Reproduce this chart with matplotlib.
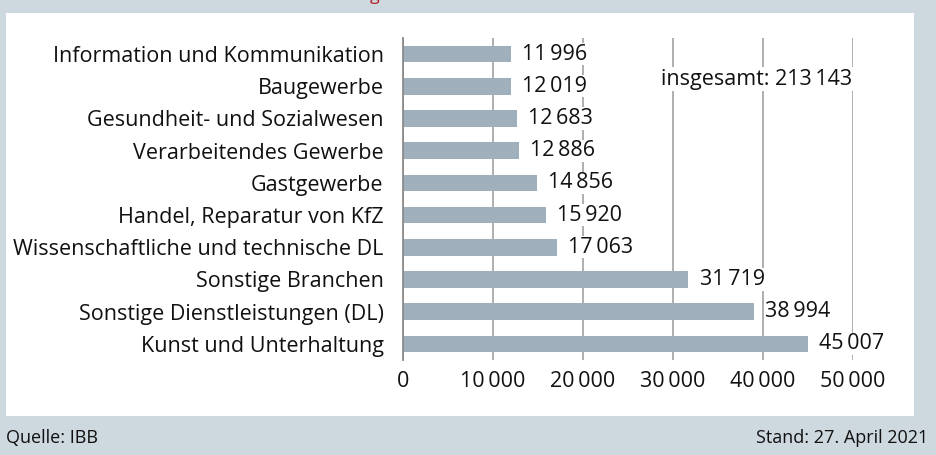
import matplotlib.pyplot as plt
from matplotlib.ticker import FuncFormatter

plt.rcParams['font.family'] = ['Open Sans', 'DejaVu Sans']

branchen = [
    "Information und Kommunikation",
    "Baugewerbe",
    "Gesundheit- und Sozialwesen",
    "Verarbeitendes Gewerbe",
    "Gastgewerbe",
    "Handel, Reparatur von KfZ",
    "Wissenschaftliche und technische DL",
    "Sonstige Branchen",
    "Sonstige Dienstleistungen (DL)",
    "Kunst und Unterhaltung",
]
werte = [11996, 12019, 12683, 12886, 14856, 15920, 17063, 31719, 38994, 45007]
gesamt = 213143
x_ticks = [0, 10000, 20000, 30000, 40000, 50000]

bg = '#cdd8df'
bar_col = '#9fb0bc'
grid_col = '#a8a8a8'
txt = '#111111'
fs = 15.5


def fmt(v):
    return f"{int(v):,}".replace(",", "\u2009")


fig = plt.figure(figsize=(9.36, 4.55), dpi=100, facecolor=bg)
# weisses Feld hinter dem Diagramm
fig.patches.append(plt.Rectangle((6 / 936, 1 - 416 / 455), 908 / 936, 403 / 455,
                                 transform=fig.transFigure, facecolor='white',
                                 edgecolor='none', zorder=-10))

ax = fig.add_axes([403 / 936, 1 - 360 / 455, 450 / 936, 322 / 455])
ax.set_facecolor('none')

y = list(range(len(branchen)))
ax.barh(y, werte, height=0.52, color=bar_col, zorder=2)
ax.set_ylim(len(branchen) - 0.5, -0.5)
ax.set_xlim(0, 50000)

ax.set_xticks(x_ticks)
ax.xaxis.set_major_formatter(FuncFormatter(lambda v, p: fmt(v)))
ax.set_yticks(y)
ax.set_yticklabels(branchen)
ax.tick_params(axis='y', length=0, pad=14, labelsize=fs, labelcolor=txt)
ax.tick_params(axis='x', length=0, pad=8, labelsize=fs, labelcolor=txt)

ax.grid(axis='x', color=grid_col, linewidth=1.3, zorder=1)
ax.set_axisbelow(True)
for s in ['top', 'right', 'bottom']:
    ax.spines[s].set_visible(False)
ax.spines['left'].set_color('#8a8a8a')
ax.spines['left'].set_linewidth(1.3)

for yi, v in zip(y, werte):
    ax.annotate(fmt(v), (v, yi), xytext=(8, 0), textcoords='offset points',
                va='center', ha='left', fontsize=fs, color=txt, zorder=4,
                bbox=dict(facecolor='white', edgecolor='none', pad=0.5))

ax.text(49890, 0.78, "insgesamt: " + fmt(gesamt), ha='right', va='center',
        fontsize=fs, color=txt, zorder=4,
        bbox=dict(facecolor='white', edgecolor='none', pad=1.0))

# Rest der abgeschnittenen Ueberschrift
fig.text(370 / 936, 1.0, "g", color='#b5252c', fontsize=13, va='baseline', ha='left')

fig.text(6 / 936, 1 - 438 / 455, "Quelle: IBB", fontsize=13, color=txt, va='center', ha='left')
fig.text(928 / 936, 1 - 438 / 455, "Stand: 27. April 2021", fontsize=13, color=txt,
         va='center', ha='right')

fig.savefig('out.png', dpi=100, facecolor=bg)
